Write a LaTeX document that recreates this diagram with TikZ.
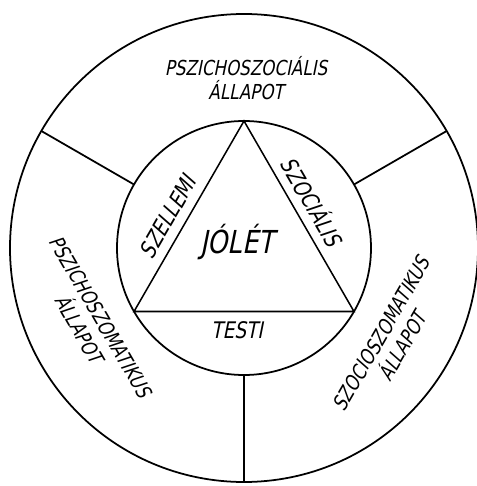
\documentclass[tikz,border=0pt]{standalone}
\usepackage{fontspec}
\newfontfamily\lettering[FakeSlant=0.2,FakeStretch=0.81]{DejaVu Sans}
\begin{document}
\begin{tikzpicture}[x=0.03cm, y=0.03cm, line width=1.5pt,
    outlbl/.style={font=\lettering\fontsize{17.6}{21}\selectfont, align=center, inner sep=0pt},
    inlbl/.style={font=\lettering\fontsize{19.5}{23}\selectfont, inner sep=0pt}]
  \useasboundingbox (-244,-238) rectangle (232,248);
  \draw (0,0) circle[radius=234];
  \draw (0,0) circle[radius=127];
  \coordinate (top) at (90:127);
  \coordinate (left) at (210:127);
  \coordinate (right) at (330:127);
  \draw[line width=1.3pt] (top) -- (left) -- (right) -- cycle;
  \foreach \ang in {30,150,270}
    \draw (\ang:127) -- (\ang:234);
  \node[font=\lettering\fontsize{27}{30}\selectfont, inner sep=0pt] (jolet) at (-7,6) {JÓLÉT};
  \node[inlbl, rotate=60] (szellemi) at (-76,31) {SZELLEMI};
  \node[inlbl, rotate=-60] (szocialis) at (69,47) {SZOCIÁLIS};
  \node[inlbl] (testi) at (-7,-82) {TESTI};
  \node[outlbl] (pszichoszoc) at (2,170) {PSZICHOSZOCIÁLIS\\ÁLLAPOT};
  \node[outlbl, rotate=-60] (pszichoszom) at (-154,-75) {PSZICHOSZOMATIKUS\\ÁLLAPOT};
  \node[outlbl, rotate=60] (szocioszom) at (148,-92) {SZOCIOSZOMATIKUS\\ÁLLAPOT};
\end{tikzpicture}
\end{document}
